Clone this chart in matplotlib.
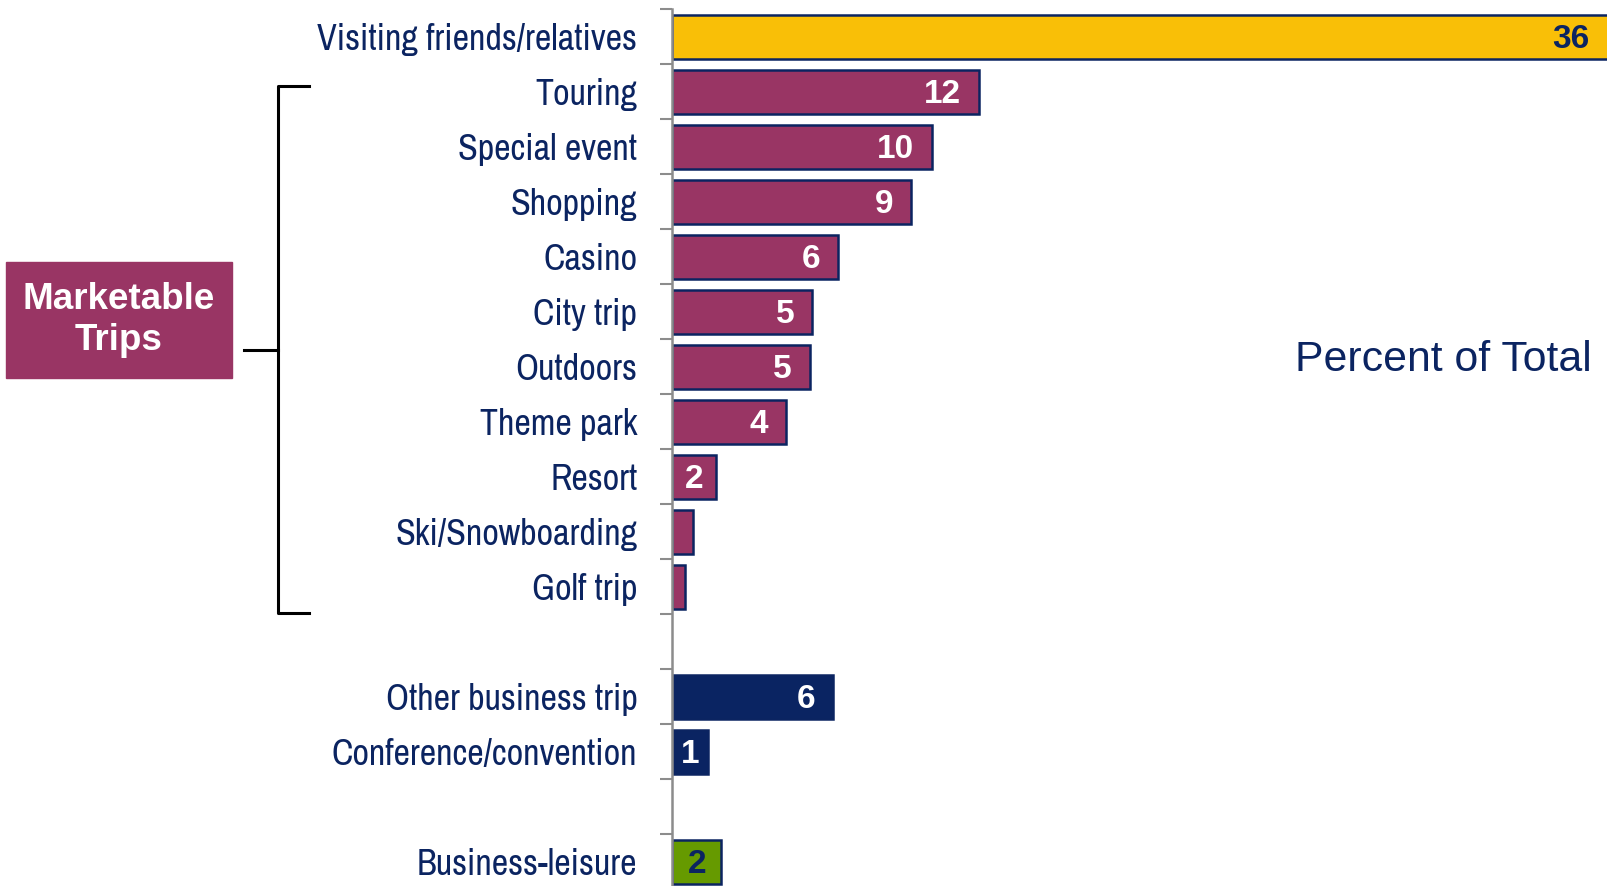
import matplotlib
matplotlib.use('Agg')
import matplotlib.pyplot as plt
from matplotlib.patches import Rectangle
from matplotlib.lines import Line2D
from matplotlib import font_manager

# data (percent of total)
categories = ['Visiting friends/relatives', 'Touring', 'Special event', 'Shopping',
              'Casino', 'City trip', 'Outdoors', 'Theme park', 'Resort',
              'Ski/Snowboarding', 'Golf trip', '', 'Other business trip',
              'Conference/convention', '', 'Business-leisure']
values = [36.3, 11.8, 10.0, 9.2, 6.4, 5.4, 5.3, 4.4, 1.7, 0.8, 0.5, 0,
          6.2, 1.4, 0, 1.9]
labels = ['36', '12', '10', '9', '6', '5', '5', '4', '2', '1', '1', '',
          '6', '1', '', '2']
groups = ['vfr'] + ['market'] * 10 + [''] + ['business'] * 2 + [''] + ['bizleisure']

navy = '#0B2461'
fill = {'vfr': '#F9BF07', 'market': '#993564', 'business': '#0A2462',
        'bizleisure': '#669A00', '': 'white'}
txtcol = {'vfr': navy, 'market': 'white', 'business': 'white',
          'bizleisure': navy, '': 'white'}

# look for a narrow sans face, otherwise shrink regular Liberation Sans
narrow, cat_size = 'Liberation Sans', 23.5
for f in font_manager.fontManager.ttflist:
    if ('Narrow' in f.name or 'Condensed' in f.name) and 'Mono' not in f.name \
            and 'Serif' not in f.name:
        narrow, cat_size = f.name, 26
        break

W, H = 1608, 886
XMAX = 36
fig = plt.figure(figsize=(W / 100, H / 100), dpi=100)
row_h = 55
ax = fig.add_axes([672 / W, 1 - (9 + 16 * row_h) / H, 936 / W, 16 * row_h / H])

ypos = list(range(len(categories)))
bars = ax.barh(ypos, values, height=0.8, color=[fill[g] for g in groups],
               edgecolor=navy, linewidth=1.8)
for b, lab, g in zip(bars, labels, groups):
    if not lab:
        b.set_visible(False)
        continue
    w = min(b.get_width(), XMAX)
    yc = b.get_y() + b.get_height() / 2
    if w < 1:
        # label too wide for the bar: it sits past the end and is lost
        pos, off, ha = w, -1.5, 'left'
    elif w < 3:
        pos, off, ha = w / 2, 0, 'center'
    else:
        pos, off, ha = w, -13, 'right'
    t = ax.annotate(lab, xy=(pos, yc), xytext=(off, -2), textcoords='offset points',
                    ha=ha, va='center', fontsize=24, fontweight='bold',
                    family='Liberation Sans', color=txtcol[g])
    t.set_clip_path(b)

ax.set_xlim(0, XMAX)
ax.set_ylim(len(categories) - 0.5, -0.5)
ax.set_yticks(ypos)
ax.set_yticklabels(categories, family=narrow, fontsize=cat_size, color=navy)
ax.set_yticks([i - 0.5 for i in range(len(categories) + 1)], minor=True)
ax.tick_params(axis='y', which='major', length=0, pad=25)
ax.tick_params(axis='y', which='minor', length=9, width=1.5, color='#8C8C8C')
ax.set_xticks([])
for s in ['top', 'right', 'bottom']:
    ax.spines[s].set_visible(False)
ax.spines['left'].set_color('#8C8C8C')
ax.spines['left'].set_linewidth(1.8)

fig.text(1592 / W, 1 - 360 / H, 'Percent of Total', ha='right', va='center',
         fontsize=30.8, family='Liberation Sans', color=navy)

# "Marketable Trips" box and bracket
fig.add_artist(Rectangle((6 / W, 1 - 378 / H), 226 / W, 116 / H,
                         transform=fig.transFigure, color='#993564'))
fig.text(119 / W, 1 - 320 / H, 'Marketable\nTrips', ha='center', va='center',
         fontsize=26.5, fontweight='bold', family='Liberation Sans', color='white',
         linespacing=1.2)
bx = [309, 278, 278, 309]
by = [86, 86, 613, 613]
fig.add_artist(Line2D([x / W for x in bx], [1 - y / H for y in by],
                      transform=fig.transFigure, color='black', lw=2.2))
fig.add_artist(Line2D([244 / W, 278 / W], [1 - 350 / H, 1 - 350 / H],
                      transform=fig.transFigure, color='black', lw=2.2))

fig.savefig('out.png', dpi=100)
